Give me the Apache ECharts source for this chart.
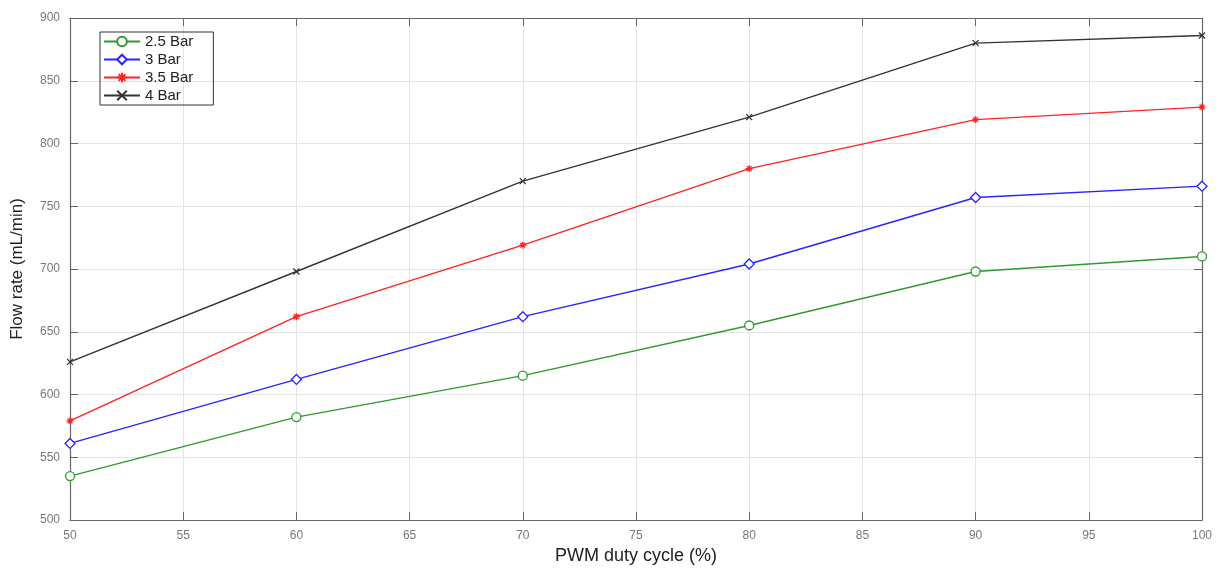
<!DOCTYPE html>
<html>
<head>
<meta charset="utf-8">
<script src="https://cdn.jsdelivr.net/npm/echarts@6/dist/echarts.min.js"></script>
<style>html,body{margin:0;padding:0;background:#fff}#c{width:1222px;height:571px}</style>
</head>
<body>
<div id="c"></div>
<script>
const dutyCycle = [50, 60, 70, 80, 90, 100];
const bar25 = [535, 582, 615, 655, 698, 710];
const bar3 = [561, 612, 662, 704, 757, 766];
const bar35 = [579, 662, 719, 780, 819, 829];
const bar4 = [626, 698, 770, 821, 880, 886];
const seriesNames = ['2.5 Bar', '3 Bar', '3.5 Bar', '4 Bar'];

const pair = arr => dutyCycle.map((x, i) => [x, arr[i]]);

const chart = echarts.init(document.getElementById('c'));
const asterisk = 'path://M5,0L5,10M0,5L10,5M1.5,1.5L8.5,8.5M8.5,1.5L1.5,8.5';
const cross = 'path://M0,0L10,10M10,0L0,10';
const tickLabel = {color: '#777', fontSize: 12, fontFamily: 'Liberation Sans'};
const axisLine = {show: true, lineStyle: {color: '#666', width: 1.2}};
function mk(name, data, color, symbol, size, hollow) {
  return {
    name, type: 'line', data: pair(data), symbol, symbolSize: size,
    showAllSymbol: true,
    lineStyle: {color, width: 1.4},
    itemStyle: {color: hollow ? '#fff' : 'none', borderColor: color, borderWidth: 1.3},
    emphasis: {disabled: true}, animation: false
  };
}
chart.setOption({
  animation: false,
  grid: {left: 70, right: 20, top: 18, bottom: 51},
  legend: {
    left: 100, top: 32, orient: 'vertical', itemGap: 3,
    itemWidth: 36, itemHeight: 12,
    borderColor: '#333', borderWidth: 1, padding: [2, 20, 2, 3],
    textStyle: {fontSize: 15, color: '#222', fontFamily: 'Liberation Sans'},
    data: seriesNames
  },
  xAxis: [{
    type: 'value', min: 50, max: 100, interval: 5,
    name: 'PWM duty cycle (%)', nameLocation: 'middle', nameGap: 27,
    nameTextStyle: {fontSize: 18, color: '#222', fontFamily: 'Liberation Sans'},
    axisLine, axisTick: {inside: true, length: 8, lineStyle: {color: '#666'}},
    axisLabel: Object.assign({margin: 10}, tickLabel),
    splitLine: {show: true, lineStyle: {color: '#e4e4e4'}}
  }, {
    type: 'value', min: 50, max: 100, interval: 5, position: 'top',
    axisLine, axisTick: {inside: true, length: 8, lineStyle: {color: '#666'}},
    axisLabel: {show: false}, splitLine: {show: false}
  }],
  yAxis: [{
    type: 'value', min: 500, max: 900, interval: 50,
    name: 'Flow rate (mL/min)', nameLocation: 'middle', nameGap: 44,
    nameTextStyle: {fontSize: 17, color: '#222', fontFamily: 'Liberation Sans'},
    axisLine, axisTick: {show: true, inside: true, length: 8, lineStyle: {color: '#666'}},
    axisLabel: Object.assign({margin: 10}, tickLabel),
    splitLine: {show: true, lineStyle: {color: '#e4e4e4'}}
  }, {
    type: 'value', min: 500, max: 900, interval: 50, position: 'right',
    axisLine, axisTick: {show: true, inside: true, length: 8, lineStyle: {color: '#666'}},
    axisLabel: {show: false}, splitLine: {show: false}
  }],
  series: [
    mk(seriesNames[0], bar25, '#2e9a2e', 'circle', 9, true),
    mk(seriesNames[1], bar3, '#2525ff', 'diamond', 10, true),
    mk(seriesNames[2], bar35, '#ff2222', asterisk, 7, false),
    mk(seriesNames[3], bar4, '#333333', cross, 6, false)
  ]
});
</script>
</body>
</html>
